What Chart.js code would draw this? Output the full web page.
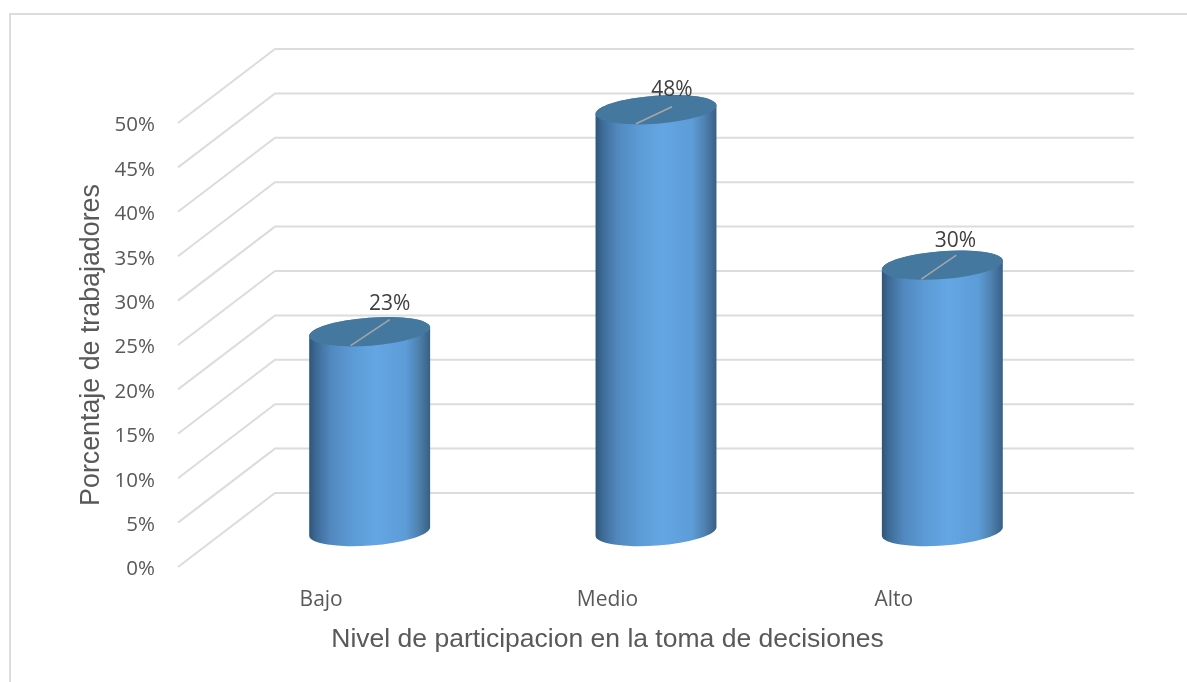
<!DOCTYPE html>
<html>
<head>
<meta charset="utf-8">
<title>Nivel de participacion</title>
<script src="https://cdn.jsdelivr.net/npm/chart.js@4"></script>
<style>
body { margin: 0; background: #fff; }
canvas { display: block; }
</style>
</head>
<body>
<canvas id="chart" width="1187" height="682"></canvas>
<script>
// chart data
var categories = ["Bajo", "Medio", "Alto"];
var values = [22.5, 47.5, 30];

// hand placed data labels and leader lines, relative to the top of each bar
var labelOffsets = [[20, -28], [16, -20], [13, -24]];
var leaderEnds = [[-19, 14, 20, -12], [-20, 14, 16, -3], [-21, 14, 14, -10]];

var depthX = 97;      // floor depth of the fake 3d box
var depthY = 74;
var tilt = -4.3 * Math.PI / 180;

// back walls and floor lines, drawn behind the bars
var wallPlugin = {
    id: 'wall',
    beforeDraw: function (chart) {
        var c = chart.ctx;
        c.save();
        c.strokeStyle = '#dcdcdc';
        c.lineWidth = 2;
        c.beginPath();
        c.moveTo(10, 682);
        c.lineTo(10, 14);
        c.lineTo(1187, 14);
        c.stroke();
        var y = chart.scales.y, a = chart.chartArea;
        y.ticks.forEach(function (t) {
            var py = y.getPixelForValue(t.value);
            c.beginPath();
            c.moveTo(a.left, py);
            c.lineTo(a.left + depthX, py - depthY);
            c.lineTo(a.right + depthX, py - depthY);
            c.stroke();
            // tick labels sit a little under their line in the original
            c.fillStyle = '#595959';
            c.font = '20.5px "Open Sans"';
            c.textAlign = 'right';
            c.textBaseline = 'middle';
            c.fillText(t.value + '%', a.left - 23, py + 2.5);
        });
        c.restore();
    },
    afterDatasetsDraw: function (chart) {
        var c = chart.ctx;
        chart.getDatasetMeta(0).data.forEach(function (bar, i) {
            var cx = bar.x + depthX / 2;
            var topY = bar.y - depthY / 2 + 1.5;
            var botY = bar.base - depthY / 2 + 1.5;
            var rx = bar.width / 2 + 0.5, ry = 14;

            var g = c.createLinearGradient(cx - rx, 0, cx + rx, 0);
            g.addColorStop(0, '#2f5578');
            g.addColorStop(0.06, '#3d6b96');
            g.addColorStop(0.18, '#5288bf');
            g.addColorStop(0.35, '#5b9ad4');
            g.addColorStop(0.55, '#64a6e4');
            g.addColorStop(0.8, '#5c9cd7');
            g.addColorStop(0.9, '#4f82b0');
            g.addColorStop(1, '#375f85');

            c.save();
            c.beginPath();
            c.ellipse(cx, botY, rx, ry, tilt, 0, Math.PI);
            c.ellipse(cx, topY, rx, ry, tilt, Math.PI, 2 * Math.PI);
            c.closePath();
            c.fillStyle = g;
            c.fill();

            c.beginPath();
            c.ellipse(cx, topY, rx, ry, tilt, 0, 2 * Math.PI);
            c.fillStyle = '#44789f';
            c.fill();

            var l = leaderEnds[i];
            c.beginPath();
            c.moveTo(cx + l[0], topY + l[1]);
            c.lineTo(cx + l[2], topY + l[3]);
            c.strokeStyle = '#a6a6a6';
            c.lineWidth = 1.5;
            c.stroke();

            c.fillStyle = '#404040';
            c.font = '21px "Open Sans"';
            c.textAlign = 'center';
            c.textBaseline = 'middle';
            c.fillText(Math.round(values[i]) + '%', cx + labelOffsets[i][0], topY + labelOffsets[i][1]);
            c.restore();
        });
    }
};

var ctx = document.getElementById('chart');
var participacionChart = new Chart(ctx, {
    type: 'bar',
    data: {
        labels: categories,
        datasets: [{
            label: 'Porcentaje',
            data: values,
            backgroundColor: 'rgba(0, 0, 0, 0)',
            borderWidth: 0,
            barPercentage: 0.42,
            categoryPercentage: 1
        }]
    },
    options: {
        responsive: false,
        animation: false,
        layout: { padding: { top: 123, right: 150, left: 0, bottom: 0 } },
        plugins: { legend: { display: false }, tooltip: { enabled: false } },
        scales: {
            x: {
                afterFit: function (s) { s.height = 115; },
                grid: { display: false },
                border: { display: false },
                ticks: { color: '#595959', font: { family: 'Open Sans', size: 21 }, padding: 12 },
                title: {
                    display: true,
                    text: 'Nivel de participacion en la toma de decisiones',
                    color: '#595959',
                    font: { family: 'Liberation Sans', size: 26.5 },
                    padding: { top: 0, bottom: 26 }
                }
            },
            y: {
                min: 0,
                max: 50,
                afterFit: function (s) { s.width = 178; },
                grid: { display: false },
                border: { display: false },
                ticks: { stepSize: 5, display: false },
                title: {
                    display: true,
                    text: 'Porcentaje de trabajadores',
                    color: '#595959',
                    font: { family: 'Liberation Sans', size: 26.8 },
                    padding: { top: 75.5, bottom: 0 }
                }
            }
        }
    },
    plugins: [wallPlugin]
});
</script>
</body>
</html>
